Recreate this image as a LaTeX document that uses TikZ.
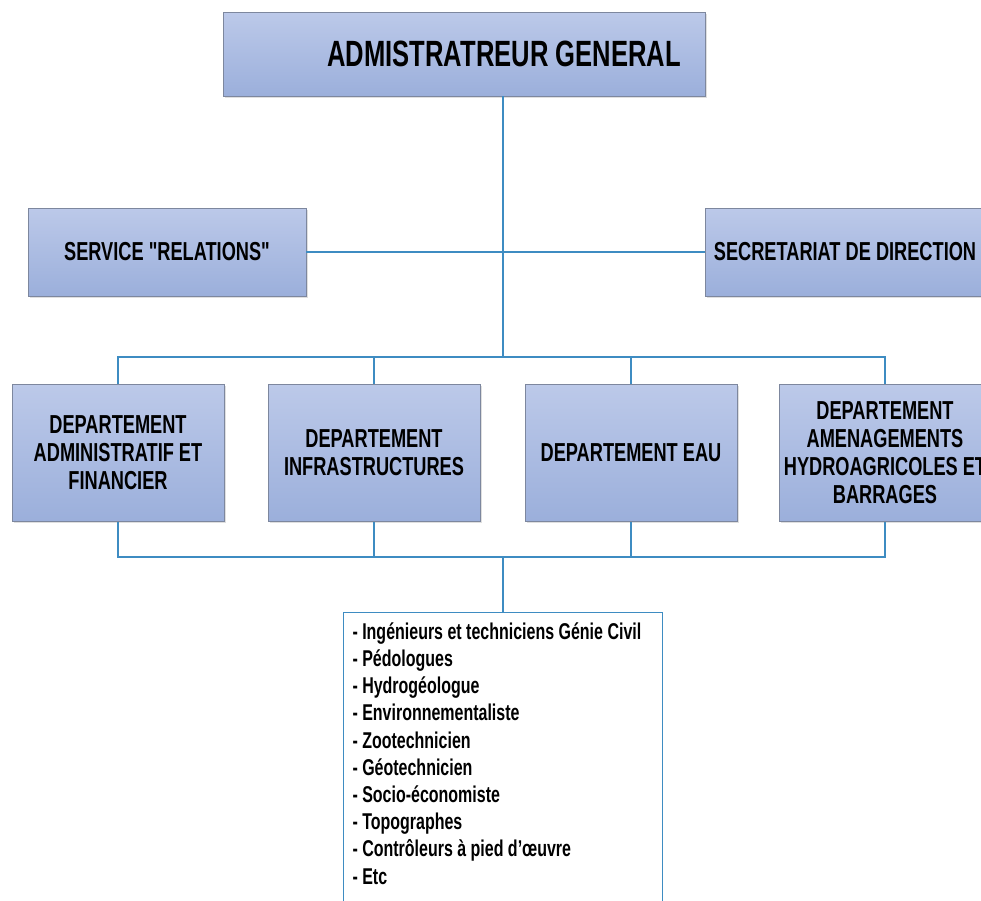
\documentclass[tikz,border=0pt]{standalone}
\usepackage{fontspec}
\newfontfamily\orgfont{Liberation Sans}[FakeStretch=0.70]
\usetikzlibrary{positioning, shadows}
\definecolor{BoxTop}{HTML}{BCC9E9}
\definecolor{BoxBottom}{HTML}{9BAFDB}
\definecolor{BoxEdge}{HTML}{7D879E}
\definecolor{LinkBlue}{HTML}{3E8CC2}
\tikzset{
  orgbox/.style={draw=BoxEdge, thin, top color=BoxTop, bottom color=BoxBottom, align=center, inner sep=2pt, font=\orgfont\bfseries\fontsize{14.8}{15.9}\selectfont, drop shadow={opacity=0.25, shadow xshift=1pt, shadow yshift=-1pt}},
  headbox/.style={orgbox, font=\orgfont\bfseries\fontsize{20.8}{24}\selectfont},
  deptbox/.style={orgbox, minimum width=4.24cm, minimum height=2.74cm},
  listbox/.style={draw=LinkBlue, fill=white, thin},
  listtext/.style={align=left, inner sep=0pt, font=\orgfont\bfseries\fontsize{13}{15.5}\selectfont},
  link/.style={draw=LinkBlue, line width=0.7pt}
}

\begin{document}
\begin{tikzpicture}[x=0.02cm, y=-0.02cm]
\fill[white, use as bounding box] (0,0) rectangle (981,900);
\clip (0,0) rectangle (981,900);

% direction
\node[headbox, minimum width=9.64cm, minimum height=1.68cm] (ag) at (464,54) {\hspace*{1.6cm}ADMISTRATREUR GENERAL};
\node[orgbox, minimum width=5.56cm, minimum height=1.76cm] (serv) at (167,252) {SERVICE "RELATIONS"};
\node[orgbox, minimum width=5.6cm, minimum height=1.76cm] (sec) at (845,252) {SECRETARIAT DE DIRECTION};

% departements
\node[deptbox] (d1) at (118,453) {DEPARTEMENT\\ADMINISTRATIF ET\\FINANCIER};
\node[deptbox] (d2) at (374,453) {DEPARTEMENT\\INFRASTRUCTURES};
\node[deptbox] (d3) at (631,453) {DEPARTEMENT EAU};
\node[deptbox] (d4) at (885,453) {DEPARTEMENT\\AMENAGEMENTS\\HYDROAGRICOLES ET\\BARRAGES};

% personnel
\node[listbox, minimum width=6.38cm, minimum height=6.2cm, anchor=north] (staff) at (503,612) {};
\node[listtext, anchor=north west] (stafflist) at ([xshift=0.18cm, yshift=-0.2cm]staff.north west) {
- Ingénieurs et techniciens Génie Civil\\
- Pédologues\\
- Hydrogéologue\\
- Environnementaliste\\
- Zootechnicien\\
- Géotechnicien\\
- Socio-économiste\\
- Topographes\\
- Contrôleurs à pied d’œuvre\\
- Etc
};

\coordinate (upbus) at (503,357);
\coordinate (lowbus) at (503,557);

\draw[link] (ag.south -| upbus) -- (upbus);
\draw[link] (serv) -- (sec);
\draw[link] (d1.north) |- (upbus) -| (d4.north);
\draw[link] (d1.south) |- (lowbus) -| (d4.south);
\foreach \d in {d2, d3} {
  \draw[link] (\d.north) -- (\d.north |- upbus);
  \draw[link] (\d.south) -- (\d.south |- lowbus);
}
\draw[link] (lowbus) -- (staff.north);
\end{tikzpicture}
\end{document}
